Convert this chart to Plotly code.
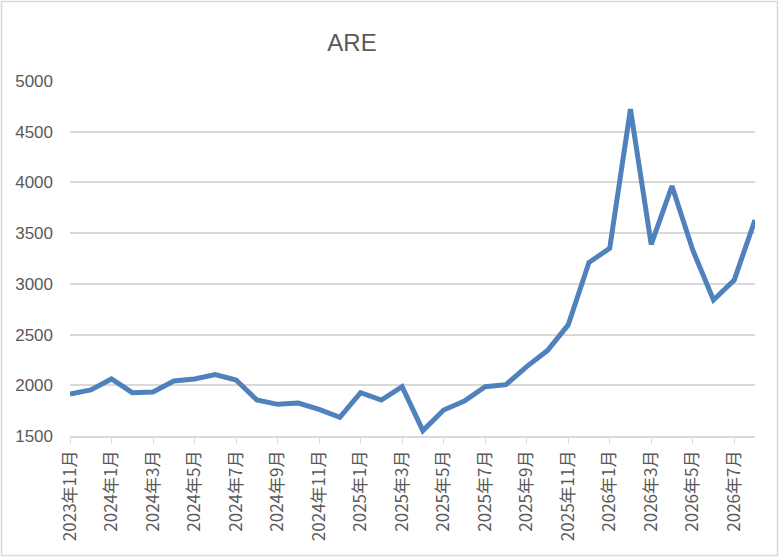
import plotly.graph_objects as go

# monthly values, 2023-11 .. 2026-08
months = []
for y, m in [(2023, 11), (2023, 12)] + [(2024, k) for k in range(1, 13)] + \
        [(2025, k) for k in range(1, 13)] + [(2026, k) for k in range(1, 9)]:
    months.append(f"{y}年{m}月")

values = [1914, 1954, 2062, 1927, 1934, 2042, 2062, 2105, 2052, 1855,
          1812, 1825, 1763, 1684, 1927, 1855, 1986, 1553, 1756, 1845,
          1986, 2006, 2184, 2342, 2595, 3210, 3351, 4722, 3390, 3965,
          3334, 2841, 3038, 3630]

tick_labels = months[::2]

grey = "#595959"
grid = "#d9d9d9"
W, H = 779, 557
L, R, T, B = 70, 24, 81, 121

fig = go.Figure()
fig.add_trace(go.Scatter(
    x=months, y=values, mode="lines",
    line=dict(color="#4f81bd", width=5),
    showlegend=False, hoverinfo="x+y",
))

pw = W - L - R
ph = H - T - B
fig.update_layout(
    width=W, height=H,
    margin=dict(l=L, r=R, t=T, b=B),
    plot_bgcolor="white", paper_bgcolor="white",
    font=dict(family="Noto Sans CJK JP, Arial", color=grey, size=16),
    title=dict(text="ARE", x=352 / W, y=1 - 43 / H, xanchor="center",
               yanchor="middle",
               font=dict(family="Liberation Sans, Arial", size=24, color=grey)),
    xaxis=dict(
        type="category", range=[0, len(months) - 1],
        tickmode="array", tickvals=tick_labels, ticktext=tick_labels,
        tickangle=-90, ticks="outside", ticklen=6, tickcolor=grid,
        showline=True, linecolor=grid, linewidth=1.5,
        showgrid=False, zeroline=False,
        tickfont=dict(size=17, color=grey),
    ),
    yaxis=dict(
        range=[1500, 5000], dtick=500, showgrid=True, gridcolor=grid,
        gridwidth=1.5, zeroline=False, showline=False, ticks="",
        ticklabelstandoff=16,
        tickfont=dict(family="Liberation Sans, Arial", size=17, color=grey),
    ),
    shapes=[dict(
        type="rect", xref="paper", yref="paper",
        x0=-(L - 1.5) / pw, x1=(pw + R - 1.5) / pw,
        y0=-(B - 1.5) / ph, y1=(ph + T - 1.5) / ph,
        line=dict(color=grid, width=1.5), fillcolor="rgba(0,0,0,0)",
        layer="below",
    )],
)

fig.write_html("out.html", config={"displayModeBar": False},
               post_script="document.body.style.margin='0';"
                           "document.body.style.overflow='hidden';")
